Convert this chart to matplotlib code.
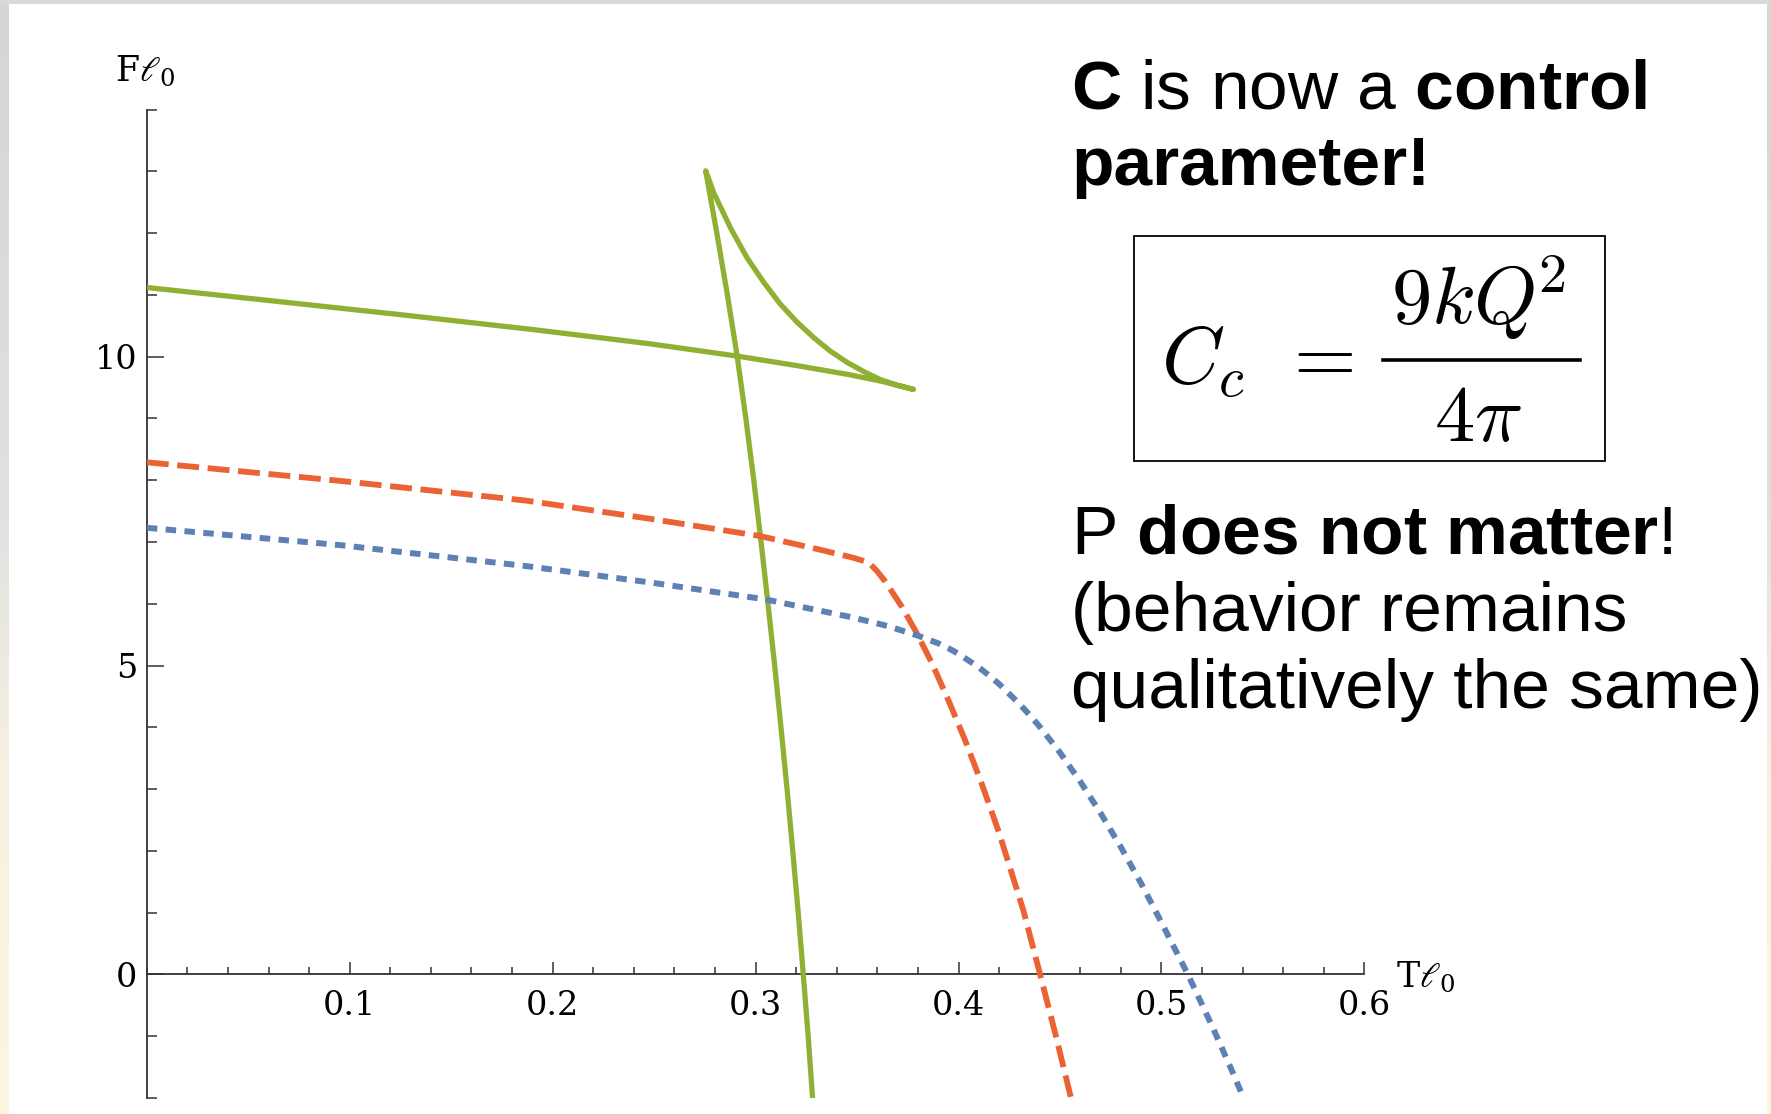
import numpy as np
import matplotlib
matplotlib.use('Agg')
import matplotlib.pyplot as plt
from matplotlib.patches import Rectangle
from matplotlib.lines import Line2D
from matplotlib.colors import LinearSegmentedColormap
from matplotlib.ticker import FixedLocator, MultipleLocator

# free energy vs temperature, both in units of l0
# green: swallowtail (small -> intermediate -> large black hole branch)
green_T = [0.0, 0.06, 0.125, 0.19, 0.2476, 0.2909, 0.3213, 0.3459, 0.3623, 0.3778,
           0.3696, 0.3614, 0.3532, 0.3450, 0.3368, 0.3286, 0.3204, 0.3122, 0.3041,
           0.2958, 0.2877, 0.2794, 0.2754,
           0.2809, 0.2861, 0.2909, 0.2952, 0.2991, 0.3027, 0.3061, 0.3094, 0.3125,
           0.3155, 0.3183, 0.3210, 0.3235, 0.3259, 0.3283]
green_F = [11.12, 10.91, 10.68, 10.44, 10.21, 10.01, 9.85, 9.71, 9.60, 9.47,
           9.54, 9.63, 9.76, 9.91, 10.09, 10.31, 10.56, 10.85, 11.20,
           11.60, 12.08, 12.65, 13.01,
           12.0, 11.0, 10.01, 9.0, 8.0, 7.0, 6.0, 5.0, 4.0,
           3.0, 2.0, 1.0, 0.0, -1.0, -2.1]

# red dashed: critical value
red_T = [0.0, 0.0951, 0.1869, 0.2491, 0.3016, 0.3311, 0.3475, 0.3557, 0.3598,
         0.3639, 0.3721, 0.3795, 0.3870, 0.3951, 0.4030, 0.4114, 0.4200, 0.4320,
         0.4402, 0.4480, 0.4560]
red_F = [8.29, 7.99, 7.67, 7.37, 7.10, 6.88, 6.75, 6.67, 6.53,
         6.36, 5.95, 5.52, 5.03, 4.43, 3.81, 3.09, 2.29, 1.03,
         0.0, -1.0, -2.08]

# blue dotted: above critical value
blue_T = [0.0, 0.0951, 0.1869, 0.2491, 0.3049, 0.3475, 0.3650, 0.3803, 0.385,
          0.39, 0.395, 0.40, 0.405, 0.41, 0.415, 0.42, 0.425, 0.43, 0.435,
          0.44, 0.445, 0.45, 0.46, 0.47, 0.48, 0.49, 0.50,
          0.513, 0.525, 0.535, 0.542]
blue_F = [7.23, 6.95, 6.61, 6.34, 6.07, 5.78, 5.64, 5.48, 5.42,
          5.36, 5.28, 5.19, 5.08, 4.97, 4.84, 4.70, 4.54, 4.38, 4.20,
          4.01, 3.80, 3.59, 3.12, 2.61, 2.06, 1.47, 0.84,
          0.0, -0.84, -1.58, -2.12]

x_ticks = [0.1, 0.2, 0.3, 0.4, 0.5, 0.6]
x_labels = ['0.1', '0.2', '0.3', '0.4', '0.5', '0.6']
y_ticks = [0, 5, 10]
y_labels = ['0', '5', '10']

plt.rcParams['font.family'] = 'DejaVu Serif'
plt.rcParams['lines.scale_dashes'] = False
plt.rcParams['mathtext.fontset'] = 'custom'
plt.rcParams['mathtext.rm'] = 'Liberation Sans'
plt.rcParams['mathtext.bf'] = 'Liberation Sans:bold'
plt.rcParams['mathtext.it'] = 'Liberation Sans:italic'

W, H = 1771, 1114
fig = plt.figure(figsize=(W / 100, H / 100), dpi=100)
fig.patch.set_facecolor('white')


def fx(px):
    return px / W


def fy(py):
    return 1 - py / H


# slide edge: grey top band, side bands fading grey -> cream
fig.patches.append(Rectangle((0, fy(4)), 1, 4 / H, transform=fig.transFigure,
                             color='#d9d9d9', lw=0, zorder=0))
edge_cmap = LinearSegmentedColormap.from_list(
    'edge', [(0, '#fbf6dc'), (0.3, '#f6f2e2'), (0.55, '#e0e0e0'), (1, '#d6d6d6')])
grad = np.linspace(0, 1, 256).reshape(-1, 1)
for x0, w in [(0, 9), (W - 4, 4)]:
    strip = fig.add_axes([fx(x0), 0, w / W, fy(4)])
    strip.imshow(grad, aspect='auto', cmap=edge_cmap, origin='lower',
                 extent=[0, 1, 0, 1])
    strip.axis('off')

ax = fig.add_axes([fx(146.8), fy(1097.9), (1364.4 - 146.8) / W, (1097.9 - 109.6) / H])
ax.patch.set_alpha(0)
ax.set_xlim(0, 0.6)
ax.set_ylim(-2, 14)
for s in ['top', 'right']:
    ax.spines[s].set_visible(False)
for s in ['bottom', 'left']:
    ax.spines[s].set_position(('data', 0))
    ax.spines[s].set_color('#333333')
    ax.spines[s].set_linewidth(1.3)

ax.plot(green_T, green_F, color='#8FB032', lw=3.8, solid_joinstyle='round',
        solid_capstyle='butt', zorder=3)
ax.plot(red_T, red_F, color='#EB6235', lw=4.2, linestyle=(0, (15.8, 6.2)),
        dash_capstyle='butt', dash_joinstyle='round', zorder=3)
ax.plot(blue_T, blue_F, color='#5E81B5', lw=4.3, linestyle=(0, (7.6, 6.0)),
        dash_capstyle='butt', dash_joinstyle='round', zorder=3)

ax.xaxis.set_major_locator(FixedLocator(x_ticks))
ax.set_xticklabels(x_labels)
ax.xaxis.set_minor_locator(MultipleLocator(0.02))
ax.yaxis.set_major_locator(FixedLocator(y_ticks))
ax.set_yticklabels(y_labels)
ax.yaxis.set_minor_locator(MultipleLocator(1))
ax.tick_params(axis='x', which='major', direction='in', length=9, width=1.1,
               color='#333333', pad=11, labelsize=24)
ax.tick_params(axis='x', which='minor', direction='in', length=4.8, width=1.1,
               color='#333333')
ax.tick_params(axis='y', which='major', direction='in', length=12, width=1.1,
               color='#333333', pad=7, labelsize=24)
ax.tick_params(axis='y', which='minor', direction='in', length=7.2, width=1.1,
               color='#333333')

# axis names
fig.text(fx(145), fy(81), r'F$\ell_0$', ha='center', va='baseline', fontsize=25,
         family='DejaVu Serif', math_fontfamily='dejavuserif')
fig.text(fx(1396), fy(987), r'T$\ell_0$', ha='left', va='baseline', fontsize=25,
         family='DejaVu Serif', math_fontfamily='dejavuserif')

# slide text
txt = dict(family='Liberation Sans', fontsize=50, math_fontfamily='custom',
           ha='left', va='baseline', color='black')
fig.text(fx(1071), fy(108.5), r'$\mathbf{C}$ is now a $\mathbf{control}$', **txt)
fig.text(fx(1071), fy(185), 'parameter!', fontweight='bold', **txt)
fig.text(fx(1071), fy(554), r'P $\mathbf{does}$ $\mathbf{not}$ $\mathbf{matter}$!', **txt)
fig.text(fx(1071), fy(631), '(behavior remains', **txt)
fig.text(fx(1071), fy(707.5), 'qualitatively the same)', **txt)

# boxed formula C_c = 9kQ^2 / (4 pi)
eq = dict(fontsize=58, math_fontfamily='cm', va='baseline', color='black')
fig.text(fx(1161), fy(383), r'$C_c$', ha='left', **eq)
fig.text(fx(1316), fy(381), r'$=$', ha='center', **eq)
fig.text(fx(1478), fy(324), r'$9kQ^{\!2}$', ha='center', **eq)
fig.text(fx(1478), fy(441), r'$4\pi$', ha='center', **eq)
fig.lines.append(Line2D([fx(1383), fx(1580)], [fy(360), fy(360)],
                        transform=fig.transFigure, color='black', lw=2.6))
fig.patches.append(Rectangle((fx(1134), fy(461.3)), (1605.4 - 1134) / W,
                             (461.3 - 235.5) / H, transform=fig.transFigure,
                             fill=False, lw=1.3, ec='black', zorder=5))

fig.savefig('out.png', dpi=100)
